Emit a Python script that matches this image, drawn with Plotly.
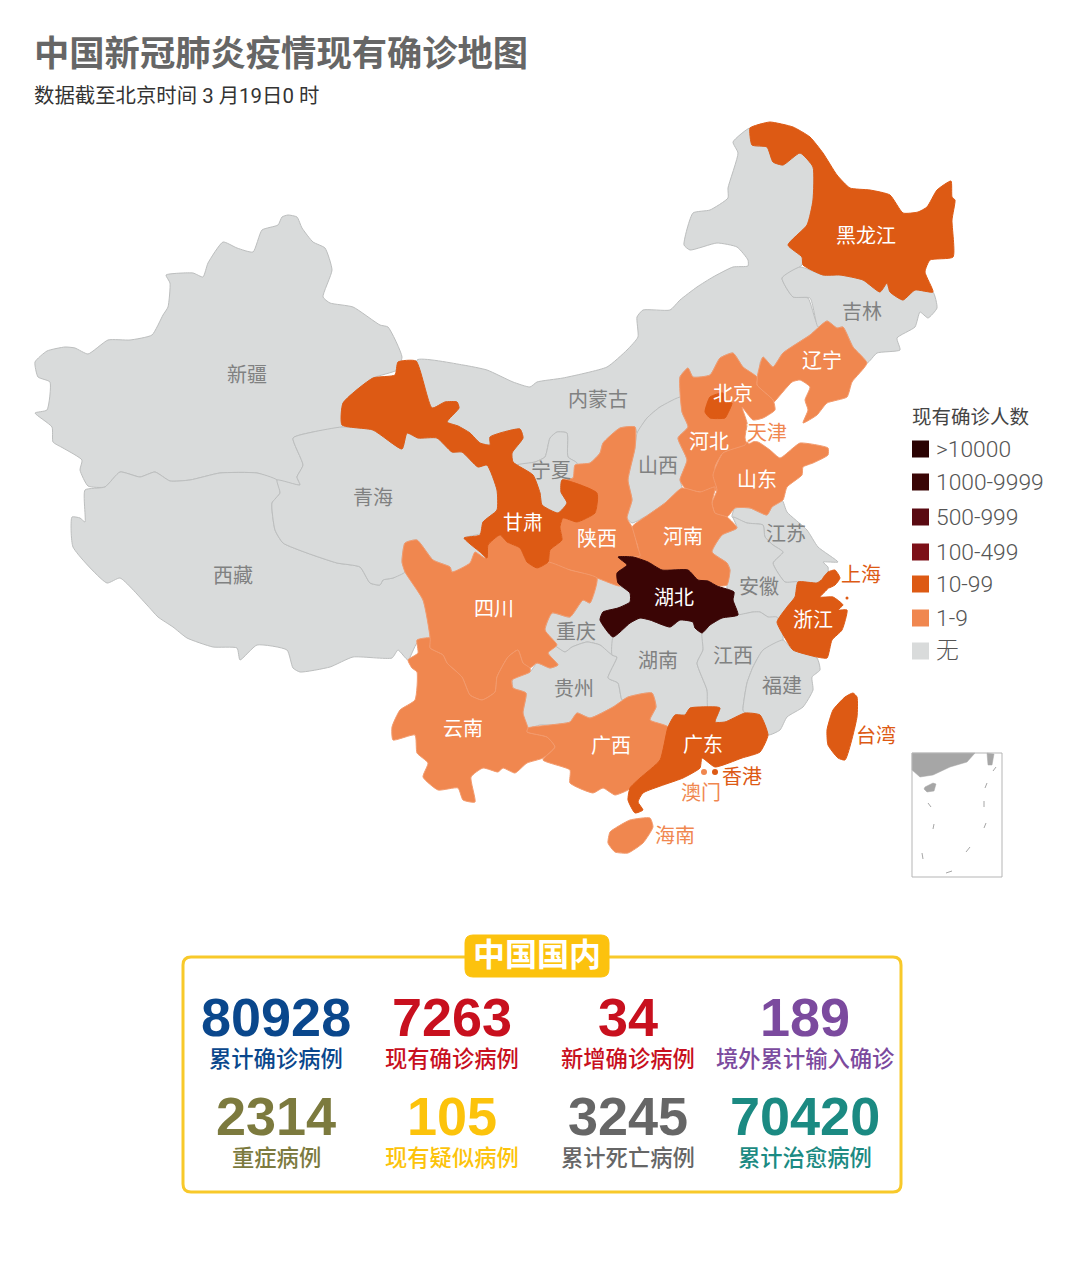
import plotly.graph_objects as go

# 数据
provinces = ["新疆", "西藏", "青海", "内蒙古", "吉林", "宁夏", "山西", "江苏", "安徽", "重庆", "贵州", "湖南", "江西", "福建", "天津",
             "辽宁", "河北", "山东", "河南", "陕西", "四川", "云南", "广西", "海南",
             "黑龙江", "甘肃", "北京", "浙江", "上海", "广东", "台湾", "湖北"]
province_bands = ["无"] * 15 + ["1-9"] * 9 + ["10-99"] * 7 + ["1000-9999"]

band_names = [">10000", "1000-9999", "500-999", "100-499", "10-99", "1-9", "无"]
band_colors = ["#2b0303", "#3a0505", "#5a0a12", "#7d1018", "#dd5a14", "#f0874f", "#d9dbdb"]
border_colors = ["#2b0303", "#3a0505", "#5a0a12", "#7d1018", "#dd5a14", "#f39a6c", "#bcbebe"]

stat_values = ["80928", "7263", "34", "189", "2314", "105", "3245", "70420"]
stat_names = ["累计确诊病例", "现有确诊病例", "新增确诊病例", "境外累计输入确诊",
              "重症病例", "现有疑似病例", "累计死亡病例", "累计治愈病例"]
stat_colors = ["#0a478c", "#c8101e", "#c8101e", "#7b4a9e", "#7c7a3e", "#fcc30b", "#666666", "#1b8a82"]

# 省界轮廓, 按底图像素描出来的
outlines = {
    "新疆": [(288,215),(297,217),(302,228),(313,242),(325,248),(332,270),(323,297),(330,303),(353,307),(380,325),(388,327),(402,357),(397,370),(373,378),(343,403),(342,427),(313,432),(293,438),(303,465),(297,477),(300,485),(277,480),(257,473),(220,473),(190,480),(170,481),(155,472),(140,477),(120,472),(105,487),(88,486),(80,470),(82,460),(63,448),(53,442),(52,427),(35,413),(47,410),(50,382),(38,377),(35,362),(47,351),(65,347),(75,348),(88,354),(108,340),(130,340),(152,335),(163,315),(168,307),(170,283),(166,275),(193,273),(203,277),(208,263),(223,242),(237,248),(253,252),(262,230),(278,225),(282,217)],
    "西藏": [(105,487),(120,472),(140,477),(155,472),(170,481),(190,480),(220,473),(257,473),(277,480),(280,493),(272,503),(275,530),(283,543),(307,553),(337,563),(360,567),(370,583),(380,585),(383,580),(393,578),(405,572),(423,600),(430,637),(417,643),(408,660),(398,650),(392,658),(353,657),(330,667),(300,672),(293,668),(287,650),(257,645),(240,660),(237,648),(213,647),(187,638),(173,627),(158,617),(147,605),(120,578),(107,583),(73,547),(72,517),(80,518),(85,522),(85,490)],
    "青海": [(293,438),(313,432),(342,427),(373,430),(402,449),(407,433),(418,438),(437,438),(452,452),(462,452),(478,467),(487,465),(497,490),(497,510),(483,522),(482,533),(464,538),(482,548),(490,558),(470,568),(452,572),(450,567),(433,560),(417,540),(405,543),(402,562),(405,572),(393,578),(383,580),(380,585),(370,583),(360,567),(337,563),(307,553),(283,543),(275,530),(272,503),(280,493),(277,480),(300,485),(297,477),(303,465)],
    "内蒙古": [(750,128),(733,142),(738,153),(728,188),(728,198),(710,210),(693,213),(684,245),(690,250),(717,243),(737,247),(748,260),(748,266),(733,267),(713,277),(697,287),(680,300),(670,310),(643,310),(637,317),(638,337),(627,350),(607,367),(563,378),(537,382),(530,387),(513,382),(487,370),(463,365),(417,360),(432,408),(445,402),(457,402),(459,408),(447,422),(458,426),(470,433),(480,443),(490,445),(490,437),(520,429),(523,438),(512,453),(513,462),(517,465),(535,462),(545,457),(550,438),(557,432),(567,433),(568,457),(577,463),(575,465),(590,463),(600,453),(603,443),(620,428),(635,427),(637,433),(647,418),(660,407),(681,397),(680,377),(688,368),(693,377),(710,375),(720,358),(733,353),(743,367),(757,377),(760,377),(760,363),(763,357),(773,367),(783,353),(810,335),(825,322),(817,323),(808,298),(793,297),(782,278),(802,265),(802,257),(788,245),(810,223),(813,200),(813,167),(800,153),(783,165),(773,162),(767,147),(752,145)],
    "吉林": [(782,278),(800,267),(823,275),(840,275),(863,280),(880,292),(887,283),(890,292),(903,300),(915,290),(933,292),(937,308),(928,318),(920,312),(915,327),(897,338),(900,350),(877,353),(867,363),(853,347),(843,327),(837,328),(827,321),(818,327),(810,298),(793,297)],
    "宁夏": [(557,432),(567,433),(568,457),(577,463),(573,478),(562,480),(561,492),(567,503),(558,513),(542,505),(540,493),(533,475),(517,465),(535,462),(545,457),(550,438)],
    "山西": [(637,433),(647,418),(660,407),(681,397),(682,412),(688,427),(678,438),(687,460),(680,480),(682,488),(665,503),(648,515),(632,523),(627,518),(632,500),(628,480),(635,448)],
    "江苏": [(732,517),(735,508),(750,508),(767,515),(772,507),(782,500),(787,512),(807,530),(818,547),(838,562),(823,562),(828,567),(828,572),(822,580),(817,583),(798,582),(785,582),(773,563),(783,552),(773,545),(765,537),(763,525),(747,523)],
    "安徽": [(733,517),(747,523),(763,525),(765,537),(773,545),(783,552),(773,563),(785,582),(798,582),(795,597),(787,607),(777,622),(768,617),(760,612),(753,612),(738,615),(733,600),(734,592),(727,588),(730,570),(727,563),(712,552),(722,535),(737,528)],
    "重庆": [(552,613),(570,617),(583,600),(590,603),(597,578),(620,586),(630,593),(630,602),(618,608),(603,612),(600,620),(613,637),(612,655),(600,645),(587,642),(572,647),(565,652),(553,645),(545,630)],
    "贵州": [(553,645),(565,652),(572,647),(587,642),(600,645),(612,655),(617,657),(608,678),(618,683),(622,700),(628,697),(613,707),(590,718),(577,713),(570,722),(550,725),(540,725),(528,728),(523,713),(526,693),(513,688),(513,678),(530,672),(537,663),(550,668),(558,665),(548,653)],
    "湖南": [(613,637),(630,623),(640,618),(650,620),(670,627),(680,620),(693,622),(695,628),(702,633),(703,650),(697,663),(707,690),(708,708),(690,708),(685,715),(675,715),(668,727),(650,720),(656,707),(652,693),(628,697),(622,700),(618,683),(608,678),(617,657),(612,655)],
    "江西": [(702,633),(710,625),(722,618),(738,615),(753,612),(760,612),(768,617),(777,617),(783,640),(763,650),(753,667),(747,683),(743,710),(745,713),(725,722),(715,722),(720,708),(708,708),(707,690),(697,663),(703,650)],
    "福建": [(783,640),(793,650),(817,658),(820,670),(812,677),(813,690),(803,707),(787,717),(780,730),(768,735),(760,715),(745,713),(743,710),(747,683),(753,667),(763,650)],
    "天津": [(733,405),(742,407),(740,415),(747,423),(745,433),(737,435),(729,427),(728,415)],
    "辽宁": [(827,321),(837,328),(843,327),(853,347),(867,363),(852,382),(847,397),(827,403),(817,415),(803,423),(808,410),(805,400),(810,387),(800,380),(792,382),(773,403),(773,400),(757,385),(758,373),(763,357),(773,367),(783,353),(810,335)],
    "河北": [(680,377),(688,368),(693,377),(710,375),(720,358),(733,353),(743,367),(757,377),(757,385),(773,400),(775,410),(763,418),(753,420),(742,407),(747,423),(745,438),(747,445),(723,453),(715,467),(717,490),(700,492),(685,488),(680,480),(687,460),(678,438),(688,427),(682,412)],
    "山东": [(745,445),(747,442),(758,442),(770,450),(780,458),(793,448),(800,443),(828,448),(828,455),(813,463),(803,467),(802,475),(787,487),(783,500),(772,507),(767,515),(750,508),(735,508),(727,517),(715,513),(712,503),(717,490),(713,475),(723,453)],
    "河南": [(632,527),(648,515),(665,503),(682,488),(700,492),(715,487),(712,503),(715,513),(727,517),(737,528),(722,535),(712,552),(727,563),(730,570),(727,585),(717,586),(708,581),(698,580),(688,570),(662,570),(648,562),(633,557),(638,548)],
    "陕西": [(620,428),(635,427),(635,448),(628,480),(632,500),(627,518),(632,527),(638,548),(640,556),(618,557),(627,565),(617,573),(620,586),(597,578),(570,570),(547,567),(548,562),(550,550),(562,540),(560,527),(563,518),(577,522),(595,513),(597,493),(562,480),(573,478),(575,465),(590,463),(600,453),(603,443)],
    "四川": [(405,543),(417,540),(433,560),(450,567),(452,572),(470,563),(475,552),(485,558),(488,545),(500,535),(507,542),(520,548),(527,562),(537,568),(548,562),(570,570),(597,578),(590,603),(583,600),(570,617),(552,613),(545,630),(557,645),(548,653),(558,665),(550,668),(537,663),(530,668),(523,663),(518,650),(508,657),(497,677),(495,692),(482,700),(470,695),(462,677),(447,663),(443,655),(430,648),(430,637),(423,600),(405,572),(402,562)],
    "云南": [(430,638),(417,640),(418,653),(408,660),(412,668),(417,672),(415,700),(400,710),(392,727),(393,740),(415,735),(417,753),(428,763),(423,777),(438,790),(458,788),(463,800),(475,802),(471,777),(483,768),(498,772),(503,768),(515,773),(527,763),(543,758),(555,747),(547,737),(527,732),(528,728),(523,713),(526,693),(513,688),(512,680),(530,672),(530,668),(523,663),(518,650),(508,657),(497,677),(495,692),(482,700),(470,695),(462,677),(447,663),(443,655),(430,648)],
    "广西": [(528,728),(550,725),(570,722),(577,713),(590,718),(613,707),(628,697),(652,693),(656,707),(650,720),(668,727),(660,760),(640,778),(630,788),(628,790),(615,795),(603,788),(593,793),(570,783),(570,770),(543,760),(555,747),(547,737),(527,732)],
    "海南": [(617,827),(630,820),(650,818),(653,827),(643,843),(628,853),(615,852),(608,843),(610,832)],
    "黑龙江": [(750,128),(757,125),(770,122),(793,127),(810,137),(823,153),(837,175),(850,188),(870,190),(890,195),(903,213),(918,212),(927,207),(937,190),(951,181),(952,197),(955,200),(952,220),(953,257),(930,260),(925,272),(933,292),(915,290),(903,300),(890,292),(887,283),(880,292),(863,280),(840,275),(823,275),(803,265),(802,257),(788,245),(807,225),(813,200),(813,167),(800,153),(783,165),(773,162),(767,147),(752,145)],
    "甘肃": [(398,362),(416,361),(432,408),(445,402),(457,402),(459,408),(447,422),(458,426),(470,433),(480,443),(490,445),(490,437),(520,429),(523,438),(512,453),(513,462),(533,475),(540,493),(542,505),(558,513),(567,503),(561,492),(562,480),(597,493),(595,513),(577,522),(563,518),(560,527),(562,540),(550,550),(548,562),(537,568),(527,562),(520,548),(507,542),(500,535),(488,545),(487,558),(480,552),(464,538),(480,535),(483,522),(497,510),(497,490),(487,465),(478,467),(462,452),(452,452),(437,438),(418,438),(407,433),(402,449),(373,430),(342,425),(343,403),(373,378),(395,375)],
    "北京": [(710,397),(723,393),(725,403),(732,403),(728,413),(725,418),(710,418),(705,412)],
    "浙江": [(798,582),(817,583),(822,580),(828,588),(820,597),(833,597),(843,605),(838,610),(847,610),(842,630),(832,640),(827,658),(817,657),(793,650),(785,638),(777,622),(787,607),(795,597)],
    "上海": [(828,572),(835,570),(840,578),(835,585),(828,588),(822,580)],
    "广东": [(690,708),(717,707),(720,708),(715,722),(725,722),(745,713),(760,715),(768,735),(760,752),(742,758),(715,767),(702,758),(700,768),(683,778),(643,793),(638,802),(643,810),(635,813),(628,800),(630,788),(640,778),(660,760),(668,727),(675,715),(685,715)],
    "台湾": [(853,693),(857,697),(857,717),(845,760),(838,758),(828,745),(827,730),(833,710),(845,697)],
    "湖北": [(618,557),(633,557),(648,562),(662,570),(688,570),(698,580),(708,581),(717,586),(734,592),(733,600),(738,615),(722,618),(710,625),(702,633),(695,628),(693,622),(680,620),(670,627),(650,620),(640,618),(630,623),(613,637),(600,620),(603,612),(618,608),(630,602),(630,593),(618,583),(617,573),(627,565)],
}

inset_land = [
    [(912,753),(975,753),(967,762),(950,767),(933,775),(920,777),(912,770)],
    [(925,787),(933,783),(936,784),(934,791),(927,792),(924,789)],
    [(987,753),(994,754),(992,765),(988,765)],
]
inset_dashes = [[(993,771),(996,767)], [(985,788),(987,783)], [(984,807),(984,801)], [(984,828),(986,823)],
                [(966,852),(970,847)], [(946,873),(952,871)], [(922,853),(923,859)], [(934,824),(933,829)], [(928,803),(931,807)]]

# 省名: 名字, x, y
grey_labels = ["新疆", "内蒙古", "吉林", "青海", "西藏", "宁夏", "山西", "江苏", "安徽", "重庆", "湖南", "江西", "福建", "贵州"]
grey_x = [247, 598, 862, 373, 233, 551, 658, 786, 759, 576, 658, 733, 782, 574]
grey_y = [377, 402, 314, 500, 578, 473, 468, 536, 589, 634, 663, 658, 688, 691]
white_labels = ["黑龙江", "辽宁", "北京", "河北", "山东", "河南", "陕西", "甘肃", "四川", "湖北", "浙江", "云南", "广西", "广东"]
white_x = [866, 822, 733, 709, 757, 683, 597, 523, 494, 674, 813, 463, 611, 703]
white_y = [238, 363, 396, 444, 482, 539, 541, 525, 611, 600, 622, 731, 748, 747]
dark_labels = ["上海", "台湾", "香港"]
dark_x = [861, 876, 742]
dark_y = [577, 738, 779]
light_labels = ["天津", "澳门", "海南"]
light_x = [767, 701, 675]
light_y = [435, 795, 838]

CJK = "Noto Sans CJK SC"
ORANGE = band_colors[4]
LIGHT = band_colors[5]

fig = go.Figure()


def xs_ys(pts, close=True):
    pts = pts + [pts[0]] if close else pts
    return [p[0] for p in pts], [p[1] for p in pts]


# 省份, 从无到重画, 深色压在上面
order = sorted(range(len(provinces)), key=lambda i: -band_names.index(province_bands[i]))
for i in order:
    band = band_names.index(province_bands[i])
    x, y = xs_ys(outlines[provinces[i]])
    fig.add_trace(go.Scatter(x=x, y=y, mode="lines", fill="toself", name=provinces[i],
                             fillcolor=band_colors[band],
                             line=dict(color=border_colors[band], width=1, shape="spline", smoothing=0.5),
                             hoverinfo="name", showlegend=False))

# 香港 澳门
fig.add_trace(go.Scatter(x=[715, 704], y=[772, 772], mode="markers", hoverinfo="skip", showlegend=False,
                         marker=dict(size=6, color=[ORANGE, LIGHT])))
fig.add_trace(go.Scatter(x=[847], y=[598], mode="markers", hoverinfo="skip", showlegend=False,
                         marker=dict(size=3, color=ORANGE)))


def add_labels(names, x, y, color, shadow=None):
    font = dict(family=CJK, size=20, color=color)
    if shadow:
        font["shadow"] = shadow
    fig.add_trace(go.Scatter(x=x, y=y, text=names, mode="text", textposition="middle center",
                             textfont=font, hoverinfo="skip", showlegend=False))


add_labels(grey_labels, grey_x, grey_y, "#808181")
add_labels(white_labels, white_x, white_y, "#ffffff")
add_labels(dark_labels, dark_x, dark_y, ORANGE)
add_labels(light_labels, light_x, light_y, LIGHT, shadow="2px 0 1px #fff, -2px 0 1px #fff, 0 2px 1px #fff, 0 -2px 1px #fff")

# 南海小图
for pts in inset_land:
    x, y = xs_ys(pts)
    fig.add_trace(go.Scatter(x=x, y=y, mode="lines", fill="toself", fillcolor="#a6a6a6",
                             line=dict(color="#a6a6a6", width=0.5), hoverinfo="skip", showlegend=False))
for pts in inset_dashes:
    x, y = xs_ys(pts, close=False)
    fig.add_trace(go.Scatter(x=x, y=y, mode="lines", line=dict(color="#a6a6a6", width=1),
                             hoverinfo="skip", showlegend=False))
fig.add_shape(type="rect", x0=912, x1=1002, y0=753, y1=877, line=dict(color="#b5b5b5", width=1))

# 图例
legend_y = [449, 482, 517, 552, 584, 618, 651]
legend_text_y = [451, 484, 519, 554, 586, 620, 652]
fig.add_trace(go.Scatter(x=[920.5] * len(band_names), y=legend_y, mode="markers", hoverinfo="skip", showlegend=False,
                         marker=dict(symbol="square", size=17, color=band_colors)))
fig.add_trace(go.Scatter(x=[936] * len(band_names), y=legend_text_y, mode="text", text=band_names, textposition="middle right",
                         textfont=dict(family="Roboto, " + CJK, size=22.8, color="#555555", weight=300),
                         hoverinfo="skip", showlegend=False))
fig.add_annotation(x=910, y=415, text="现有确诊人数", showarrow=False, xanchor="left", yanchor="middle",
                   font=dict(family=CJK, size=19.5, color="#444444"))

# 标题
fig.add_annotation(x=32, y=50, text="<b>中国新冠肺炎疫情现有确诊地图</b>", showarrow=False, xanchor="left", yanchor="middle",
                   font=dict(family=CJK, size=35.3, color="#666666"))
fig.add_annotation(x=32, y=96, text="数据截至北京时间 3 月19日0 时", showarrow=False, xanchor="left", yanchor="middle",
                   font=dict(family="Roboto, " + CJK, size=20.4, color="#333333"))

# 下面的框
fig.add_shape(type="path", path="M 191 957 L 893 957 Q 901 957 901 965 L 901 1184 Q 901 1192 893 1192 L 191 1192 "
                                "Q 183 1192 183 1184 L 183 965 Q 183 957 191 957 Z",
              line=dict(color="#f8c92a", width=3), fillcolor="rgba(0,0,0,0)")
fig.add_shape(type="path", path="M 473 935 L 601 935 Q 609 935 609 943 L 609 969 Q 609 977 601 977 L 473 977 "
                                "Q 465 977 465 969 L 465 943 Q 465 935 473 935 Z",
              line=dict(color="#fcc20e", width=1), fillcolor="#fcc20e")
fig.add_annotation(x=537, y=952, text="<b>中国国内</b>", showarrow=False, font=dict(family=CJK, size=32, color="#ffffff"))

stat_x = [276, 452, 628, 805] * 2
num_y = [1017] * 4 + [1116] * 4
name_y = [1057] * 4 + [1156] * 4
for i in range(len(stat_values)):
    fig.add_annotation(x=stat_x[i], y=num_y[i], text="<b>" + stat_values[i] + "</b>", showarrow=False,
                       font=dict(family="Liberation Sans", size=54, color=stat_colors[i]))
    fig.add_annotation(x=stat_x[i], y=name_y[i], text=stat_names[i], showarrow=False,
                       font=dict(family=CJK, size=22.3, color=stat_colors[i], weight=500))

# 页面 body 有 8px 的边, 所以坐标从 8 开始
fig.update_layout(width=1064, height=1252, margin=dict(l=0, r=0, t=0, b=0), paper_bgcolor="white", plot_bgcolor="white",
                  xaxis=dict(range=[8, 1072], visible=False, fixedrange=True),
                  yaxis=dict(range=[1260, 8], visible=False, fixedrange=True), hovermode="closest")

fig.write_html("out.html")
